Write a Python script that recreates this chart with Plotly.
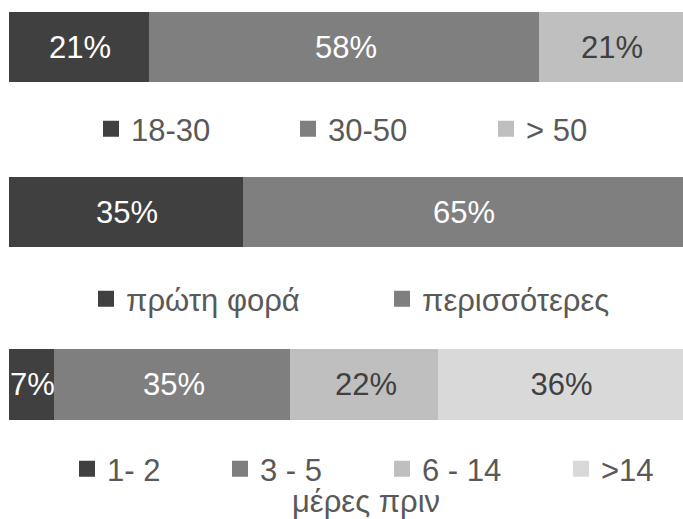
import plotly.graph_objects as go

# Data
age_labels = ["18-30", "30-50", "> 50"]
age_values = [21, 58, 21]
visit_labels = ["πρώτη φορά", "περισσότερες"]
visit_values = [35, 65]
days_labels = ["1- 2", "3 - 5", "6 - 14", ">14"]
days_values = [7, 35, 22, 36]
days_title = "μέρες πριν"

colors = ["#404040", "#7f7f7f", "#bfbfbf", "#d9d9d9"]
text_colors = ["#ffffff", "#ffffff", "#404040", "#404040"]
FONT = "Liberation Sans, Arial, sans-serif"
FS = 31
LEGEND_COLOR = "#595959"

W, H = 683, 519
LW = 4  # outline of the same colour (also enlarges legend squares)

# legend square left edges (px) and row centres (px from top), per group
legend_sq_left = [[106, 303, 501], [101, 397], [82, 235, 397, 576]]
legend_rows = [129, 299, 469]
bar_rows = [(10, 84), (175, 249), (347, 422)]
SYM_OFF = 15  # distance from legend box left to square left

fig = go.Figure()
layout_extra = {}
leg_idx = 0
groups = [(age_labels, age_values), (visit_labels, visit_values), (days_labels, days_values)]
for g, (labels, values) in enumerate(groups):
    ax = "" if g == 0 else str(g + 1)
    for i, (lab, val) in enumerate(zip(labels, values)):
        leg_idx += 1
        lname = "legend" if leg_idx == 1 else f"legend{leg_idx}"
        fig.add_trace(go.Bar(
            x=[val], y=[0], orientation="h", name=lab,
            marker=dict(color=colors[i], line=dict(width=LW, color=colors[i])),
            text=[f"{val}%"], textposition="inside", insidetextanchor="middle",
            textangle=0, constraintext="none",
            textfont=dict(family=FONT, size=FS, color=text_colors[i]),
            xaxis="x" + ax, yaxis="y" + ax, legend=lname, hoverinfo="skip",
        ))
        layout_extra[lname] = dict(
            orientation="h", x=(legend_sq_left[g][i] - SYM_OFF) / W, xanchor="left",
            y=(H - legend_rows[g]) / H, yanchor="middle",
            font=dict(family=FONT, size=FS, color=LEGEND_COLOR),
            bgcolor="rgba(0,0,0,0)", itemclick=False, itemdoubleclick=False,
        )
    top, bottom = bar_rows[g]
    half = LW / 2
    layout_extra["xaxis" + ax] = dict(domain=[(7 + half) / W, 1], range=[0, 100], anchor="y" + ax,
                                      visible=False, fixedrange=True)
    layout_extra["yaxis" + ax] = dict(domain=[(H - bottom + half) / H, (H - top - half) / H],
                                      range=[-0.5, 0.5], anchor="x" + ax,
                                      visible=False, fixedrange=True)

fig.update_layout(
    width=W, height=H, margin=dict(l=0, r=0, t=0, b=0, pad=0),
    paper_bgcolor="white", plot_bgcolor="white",
    barmode="stack", bargap=0, showlegend=True,
    uniformtext=dict(minsize=FS, mode="show"),
    font=dict(family=FONT, size=FS, color=LEGEND_COLOR),
    annotations=[dict(text=days_title, x=366 / W, xref="paper", y=(H - 501) / H, yref="paper",
                      showarrow=False, font=dict(family=FONT, size=FS, color=LEGEND_COLOR),
                      xanchor="center", yanchor="middle")],
    **layout_extra,
)

fig.write_html("out.html", config={"displayModeBar": False},
               post_script="document.body.style.margin='0';document.body.style.overflow='hidden';")
